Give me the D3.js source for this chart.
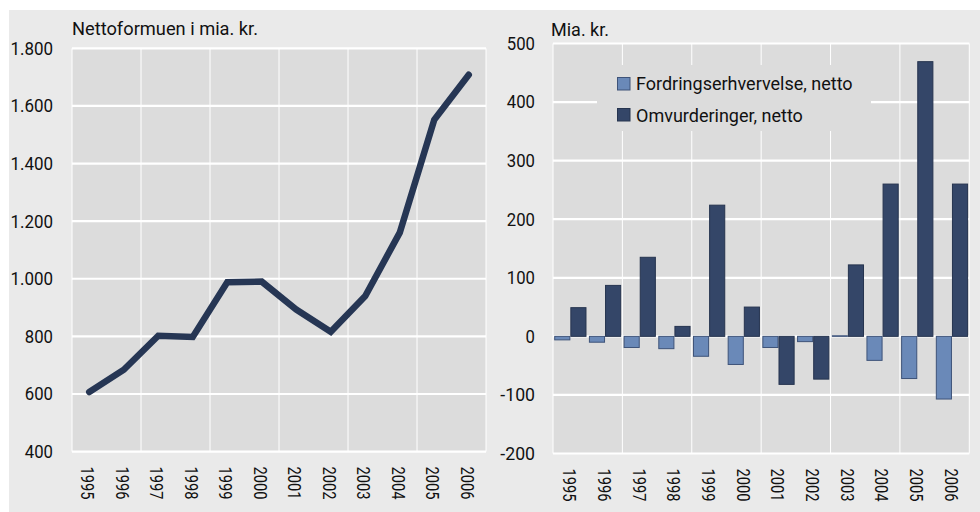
<!DOCTYPE html>
<html><head><meta charset="utf-8">
<script src="https://cdn.jsdelivr.net/npm/d3@7"></script>
<style>
html,body{margin:0;padding:0;background:#fff;}
svg{display:block;}
text{font-family:"Roboto","Liberation Sans",sans-serif;fill:#111;}
</style></head>
<body>
<svg id="c" width="980" height="512"></svg>
<script>
const years = ["1995","1996","1997","1998","1999","2000","2001","2002","2003","2004","2005","2006"];
const nettoformue = [607,684,802,798,988,990,893,816,940,1160,1552,1708];
const fordringserhvervelse = [-6,-10,-19,-21,-34,-48,-19,-9,1,-41,-72,-107];
const omvurderinger = [49,87,135,17,224,50,-82,-73,122,260,469,260];
const leftTicks = [400,600,800,1000,1200,1400,1600,1800];
const rightTicks = [-200,-100,0,100,200,300,400,500];
const seriesNames = ["Fordringserhvervelse, netto","Omvurderinger, netto"];
const leftTitle = "Nettoformuen i mia. kr.";
const rightTitle = "Mia. kr.";

const C = {outer:"#eaeaea", plot:"#dcdcdc", grid:"#ffffff", line:"#263654",
  light:"#6a89b8", lightStroke:"#3e5379", dark:"#344668", darkStroke:"#26344f"};

const svg = d3.select("#c");
svg.append("rect").attr("x",9).attr("y",10).attr("width",971).attr("height",502).attr("fill",C.outer);

const fmt = v => d3.format(",")(v).replace(/,/g,".");
// condensed look: width per character kind
const tlen = s => { let w=0; for (const ch of String(s)) w += ch==="." ? 5 : ch==="-" ? 6.5 : 9.4; return w; };

// ---------- Left panel ----------
const L = {x0:72, x1:486, y0:48.3, y1:451.6};
const xl = d3.scaleBand().domain(years).range([L.x0,L.x1]);
const yl = d3.scaleLinear().domain([400,1800]).range([L.y1,L.y0]);
const gl = svg.append("g");
gl.append("rect").attr("x",L.x0).attr("y",L.y0).attr("width",L.x1-L.x0).attr("height",L.y1-L.y0).attr("fill",C.plot);
const vIdx = [0,2,4,6,8,10,12];
gl.selectAll("line.v").data(vIdx).join("line")
  .attr("x1",i=>L.x0+i*xl.step()).attr("x2",i=>L.x0+i*xl.step())
  .attr("y1",L.y0).attr("y2",L.y1).attr("stroke",C.grid).attr("stroke-width",1);
gl.selectAll("line.h").data(leftTicks).join("line")
  .attr("x1",L.x0).attr("x2",L.x1).attr("y1",d=>yl(d)).attr("y2",d=>yl(d))
  .attr("stroke",C.grid).attr("stroke-width",2.2);
const axL = d3.axisLeft(yl).tickValues(leftTicks).tickFormat(fmt).tickSize(0).tickPadding(0);
const gaxl = svg.append("g").attr("transform",`translate(${L.x0-19},0)`).call(axL);
gaxl.select(".domain").remove();
gaxl.selectAll("text").attr("font-size",18.5).attr("textLength",d=>tlen(fmt(d))).attr("lengthAdjust","spacingAndGlyphs");
const axLx = d3.axisBottom(xl).tickSize(0).tickPadding(0);
const gxl = svg.append("g").attr("transform",`translate(0,${L.y1+15})`).call(axLx);
gxl.select(".domain").remove();
gxl.selectAll("text").attr("font-size",18).attr("transform","rotate(90)").attr("text-anchor","start")
  .attr("x",0).attr("y",0).attr("dy","0.34em").attr("textLength",33).attr("lengthAdjust","spacingAndGlyphs");
gxl.selectAll(".tick").attr("transform",d=>`translate(${xl(d)+xl.bandwidth()/2-2},0)`);
const line = d3.line().x((d,i)=>xl(years[i])+xl.bandwidth()/2).y(d=>yl(d));
gl.append("path").datum(nettoformue).attr("d",line).attr("fill","none")
  .attr("stroke",C.line).attr("stroke-width",6.5).attr("stroke-linecap","round").attr("stroke-linejoin","miter");
svg.append("text").attr("x",72).attr("y",35).attr("font-size",18).text(leftTitle)
  .attr("textLength",186).attr("lengthAdjust","spacingAndGlyphs");

// ---------- Right panel ----------
const R = {x0:553, x1:969.3, y0:43.5, y1:453.5};
const x0 = d3.scaleBand().domain(years).range([R.x0,R.x1]).paddingInner(0.07).paddingOuter(0.035);
const xr = d3.scaleBand().domain(years).range([R.x0,R.x1]);
const x1 = d3.scaleBand().domain([0,1]).range([0,x0.bandwidth()]);
const yr = d3.scaleLinear().domain([-200,500]).range([R.y1,R.y0]);
const gr = svg.append("g");
gr.append("rect").attr("x",R.x0).attr("y",R.y0).attr("width",R.x1-R.x0).attr("height",R.y1-R.y0).attr("fill",C.plot);
gr.selectAll("line.v").data(vIdx).join("line")
  .attr("x1",i=>R.x0+i*xr.step()).attr("x2",i=>R.x0+i*xr.step())
  .attr("y1",R.y0).attr("y2",R.y1).attr("stroke",C.grid).attr("stroke-width",1);
gr.selectAll("line.h").data(rightTicks).join("line")
  .attr("x1",R.x0).attr("x2",R.x1).attr("y1",d=>yr(d)).attr("y2",d=>yr(d))
  .attr("stroke",C.grid).attr("stroke-width",2.2);
const series = [fordringserhvervelse, omvurderinger];
const fills = [C.light,C.dark], strokes=[C.lightStroke,C.darkStroke];
series.forEach((vals,s)=>{
  gr.selectAll(null).data(vals).join("rect")
    .attr("x",(d,i)=>x0(years[i])+x1(s)+0.5)
    .attr("width",x1.bandwidth()-1)
    .attr("y",d=>yr(Math.max(0,d)))
    .attr("height",d=>Math.abs(yr(d)-yr(0)))
    .attr("fill",fills[s]).attr("stroke",strokes[s]).attr("stroke-width",1);
});
const axR = d3.axisLeft(yr).tickValues(rightTicks).tickFormat(d=>d).tickSize(0).tickPadding(0);
const gaxr = svg.append("g").attr("transform",`translate(${R.x0-18},0)`).call(axR);
gaxr.select(".domain").remove();
gaxr.selectAll("text").attr("font-size",18.5)
  .attr("textLength",d=>tlen(d)).attr("lengthAdjust","spacingAndGlyphs");
const axRx = d3.axisBottom(xr).tickSize(0).tickPadding(0);
const gxr = svg.append("g").attr("transform",`translate(0,${R.y1+15})`).call(axRx);
gxr.select(".domain").remove();
gxr.selectAll("text").attr("font-size",18).attr("transform","rotate(90)").attr("text-anchor","start")
  .attr("x",0).attr("y",0).attr("dy","0.34em").attr("textLength",33).attr("lengthAdjust","spacingAndGlyphs");
gxr.selectAll(".tick").attr("transform",d=>`translate(${xr(d)+xr.bandwidth()/2-1},0)`);
svg.append("text").attr("x",551).attr("y",36).attr("font-size",18).text(rightTitle);

// legend
const lg = svg.append("g");
lg.append("rect").attr("x",597).attr("y",65).attr("width",274).attr("height",66).attr("fill",C.plot);
seriesNames.forEach((n,i)=>{
  lg.append("rect").attr("x",617.5).attr("y",77.5+i*31).attr("width",12.5).attr("height",12.5)
    .attr("fill",fills[i]).attr("stroke",strokes[i]).attr("stroke-width",1);
  lg.append("text").attr("x",636).attr("y",90+i*31.5).attr("font-size",18).text(n);
});
svg.selectAll(".tick text").attr("fill","#111");
svg.selectAll("g[font-family]").attr("font-family",null);
svg.selectAll("g[font-size]").attr("font-size",null);
</script>
</body></html>
